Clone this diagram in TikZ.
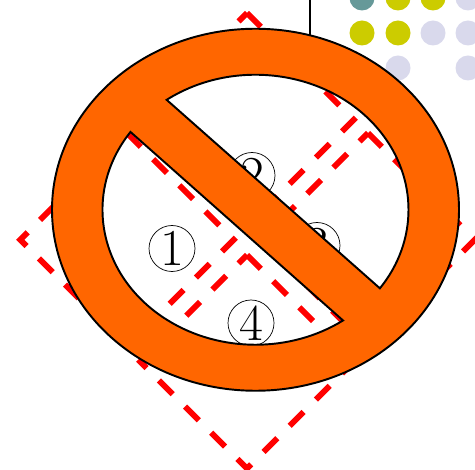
\documentclass[tikz,border=0pt]{standalone}
\usetikzlibrary{calc}
\definecolor{ringorange}{HTML}{FF6600}
\definecolor{dotteal}{HTML}{669999}
\definecolor{dotyellow}{HTML}{CCCC00}
\definecolor{dotlavender}{HTML}{D9D9EC}
\begin{document}
\begin{tikzpicture}[
      dashbox/.style={draw=red, line width=3.3pt, dash pattern=on 0.39cm off 0.35cm},
      numlabel/.style={draw, circle, thin, minimum size=0.92cm, inner sep=0pt,
        font=\fontsize{29.5}{29.5}\selectfont},
      dotmark/.style={circle, minimum size=0.5cm, inner sep=0pt},
      ring/.style={draw=black, line width=1.1pt, fill=ringorange, even odd rule}
    ]
      \clip (0,0) rectangle (9.5,9.38);
      % backdrop: dots and rule
      \foreach \dotx/\doty/\dotcol in {7.24/9.42/dotteal, 7.96/9.42/dotyellow,
          8.66/9.42/dotyellow, 9.36/9.42/dotlavender, 7.24/8.72/dotyellow,
          7.96/8.72/dotyellow, 8.66/8.72/dotlavender, 9.36/8.72/dotlavender,
          7.96/8.02/dotlavender, 9.36/8.02/dotlavender}
        \node[dotmark, fill=\dotcol] at (\dotx,\doty) {};
      \coordinate (ruletop) at (6.2,9.38);
      \coordinate (rulebottom) at (6.2,8);
      \draw[line width=1.1pt] (ruletop) -- (rulebottom);
      % four dashed squares
      \foreach \topx/\topy in {2.54/6.72, 4.94/9.12, 7.36/6.72, 4.94/4.28}
        \draw[dashbox] (\topx,\topy) -- ++(2.135,-2.135) -- ++(-2.135,-2.135)
          -- ++(-2.135,2.135) -- cycle;
      \node[numlabel] (one) at (3.44,4.41) {1};
      \node[numlabel] (two) at (5.04,5.87) {2};
      \node[numlabel] (three) at (6.34,4.47) {3};
      \node[numlabel] (four) at (5.02,2.92) {4};
      % prohibition sign
      \coordinate (signcentre) at (5.11,5.185);
      \path[ring] (signcentre) ellipse [x radius=4.07cm, y radius=3.62cm]
        (signcentre) ++(125.5:3.06cm and 2.7cm)
          arc[start angle=125.5, end angle=-35.6, x radius=3.06cm, y radius=2.7cm] -- cycle
        (signcentre) ++(144.8:3.06cm and 2.7cm)
          arc[start angle=144.8, end angle=304.9, x radius=3.06cm, y radius=2.7cm] -- cycle;
    \end{tikzpicture}
\end{document}
